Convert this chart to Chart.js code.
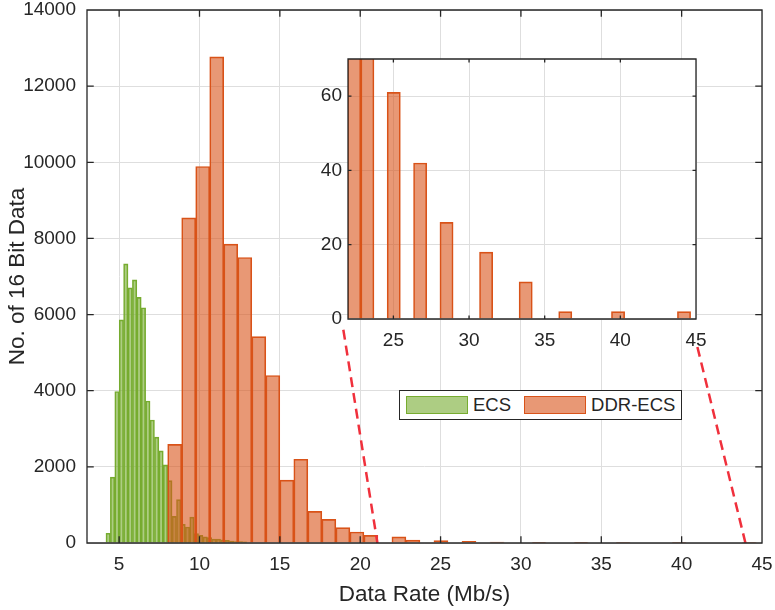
<!DOCTYPE html>
<html>
<head>
<meta charset="utf-8">
<script src="https://cdn.jsdelivr.net/npm/chart.js@4.4.1/dist/chart.umd.min.js"></script>
<style>
  body { margin: 0; background: #fff; }
  #wrap { position: relative; width: 775px; height: 610px; font-family: 'Liberation Sans', Arial, sans-serif; }
  #main { position: absolute; left: 0; top: 0; }
  #inset { position: absolute; left: 290px; top: 40px; }
  #legend {
    position: absolute; left: 399px; top: 390px; width: 283px; height: 30px;
    box-sizing: border-box; border: 1.3px solid #262626; background: #fff;
    display: flex; align-items: center; padding-left: 6px;
    font-size: 18.5px; color: #262626; white-space: nowrap;
  }
  #legend .sw { flex: 0 0 62px; height: 18px; box-sizing: border-box; border: 1.5px solid; }
  #legend .txt { flex: 0 0 auto; margin-left: 5px; margin-right: 13px; }
</style>
</head>
<body>
<div id="wrap">
  <canvas id="main" width="775" height="610"></canvas>
  <canvas id="inset" width="420" height="320"></canvas>
  <div id="legend"></div>
</div>
<script>
// histogram bins: ECS
const ecsBinStart = 4.18;
const ecsBinWidth = 0.2743;
const ecsCounts = [255, 1730, 3980, 5860, 7330, 6700, 6910, 6450, 6180, 3730, 3230, 2780, 2420, 2050,
  1640, 700, 1140, 490, 420, 680, 250, 200, 160, 140, 100, 100, 80, 70, 50, 40, 40, 30];

// histogram bins: DDR-ECS
const ddrBinStart = 8.02;
const ddrBinWidth = 0.872;
const ddrCounts = [2590, 8540, 9890, 12770, 7850, 7500, 5420, 4400, 1650, 2200, 830, 620, 405, 290, 200,
  0, 160, 75, 0, 61, 0, 42, 0, 26, 0, 0, 18, 0, 0, 10, 0, 0, 2, 0, 0, 0, 2, 0, 0, 0, 0, 2];

const mainXTicks = [5, 10, 15, 20, 25, 30, 35, 40, 45];
const mainYTicks = [0, 2000, 4000, 6000, 8000, 10000, 12000, 14000];
const insetXTicks = [25, 30, 35, 40, 45];
const insetYTicks = [0, 20, 40, 60];

// dashed guides from the tail of the main plot up to the zoomed view
const zoomGuides = [
  [{x: 18.95, y: 5600}, {x: 21.07, y: 0}],
  [{x: 40.98, y: 5150}, {x: 43.97, y: 0}]
];

const series = [
  {label: 'ECS', edge: '#77ac30', face: 'rgba(119,172,48,0.6)'},
  {label: 'DDR-ECS', edge: '#d95319', face: 'rgba(217,83,25,0.6)'}
];

Chart.defaults.font.family = "'Liberation Sans', Arial, sans-serif";
Chart.defaults.color = '#262626';

const toBins = (start, width, counts) => counts.map((c, i) => ({x: start + (i + 0.5) * width, y: c}));
const setTicks = list => s => { s.ticks = list.map(v => ({value: v})); };
const tickFont = {size: 19, lineHeight: 1.2};
const gridColor = '#dedede';

function barSet(s, data, axis, order) {
  return {
    type: 'bar', label: s.label, data: data, xAxisID: axis, order: order,
    backgroundColor: s.face, borderColor: s.edge, borderWidth: 1,
    barPercentage: 1, categoryPercentage: 1, grouped: false
  };
}

// white plot area (used for the inset so the main grid doesn't show through)
const plotBackground = {
  id: 'plotBackground',
  beforeDraw(chart) {
    const a = chart.chartArea, ctx = chart.ctx;
    ctx.save();
    ctx.fillStyle = '#fff';
    ctx.fillRect(a.left, a.top, a.right - a.left, a.bottom - a.top);
    ctx.restore();
  }
};

// MATLAB-like box with inward ticks on all four sides
const axesBox = {
  id: 'axesBox',
  afterDatasetsDraw(chart) {
    const {ctx, chartArea: a, scales} = chart;
    const xs = scales.x, ys = scales.y;
    const len = 0.01 * Math.max(a.right - a.left, a.bottom - a.top);
    ctx.save();
    ctx.strokeStyle = '#262626';
    ctx.lineWidth = 1.3;
    ctx.beginPath();
    xs.ticks.forEach(t => {
      const px = xs.getPixelForValue(t.value);
      ctx.moveTo(px, a.bottom); ctx.lineTo(px, a.bottom - len);
      ctx.moveTo(px, a.top); ctx.lineTo(px, a.top + len);
    });
    ys.ticks.forEach(t => {
      const py = ys.getPixelForValue(t.value);
      ctx.moveTo(a.left, py); ctx.lineTo(a.left + len, py);
      ctx.moveTo(a.right, py); ctx.lineTo(a.right - len, py);
    });
    ctx.rect(a.left, a.top, a.right - a.left, a.bottom - a.top);
    ctx.stroke();
    ctx.restore();
  }
};

const guideSets = zoomGuides.map(g => ({
  type: 'line', data: g, xAxisID: 'x', order: 0,
  borderColor: '#f0303c', borderWidth: 2.5, borderDash: [10, 6],
  pointRadius: 0, fill: false
}));

new Chart(document.getElementById('main'), {
  type: 'bar',
  data: {
    datasets: [
      barSet(series[0], toBins(ecsBinStart, ecsBinWidth, ecsCounts), 'xEcs', 2),
      barSet(series[1], toBins(ddrBinStart, ddrBinWidth, ddrCounts), 'x', 1),
      ...guideSets
    ]
  },
  options: {
    responsive: false,
    animation: false,
    layout: {padding: {top: 10, right: 13, left: 0, bottom: 0}},
    plugins: {legend: {display: false}, tooltip: {enabled: false}},
    scales: {
      x: {
        type: 'linear', position: 'bottom', min: 3, max: 45, offset: false,
        grid: {offset: false, color: gridColor, drawTicks: false},
        border: {display: false},
        ticks: {font: tickFont, padding: 10, autoSkip: false, maxRotation: 0, callback: v => String(v)},
        afterBuildTicks: setTicks(mainXTicks),
        title: {display: true, text: 'Data Rate (Mb/s)', font: {size: 22.5}, padding: {top: 0, bottom: 2}},
        afterFit: s => { s.height = 67; s.paddingLeft = 0; s.paddingRight = 0; }
      },
      xEcs: {type: 'linear', min: 3, max: 45, offset: false, display: false},
      y: {
        min: 0, max: 14000,
        grid: {color: gridColor, drawTicks: false},
        border: {display: false},
        ticks: {font: tickFont, padding: 11, callback: v => String(v)},
        afterBuildTicks: setTicks(mainYTicks),
        title: {display: true, text: 'No. of 16 Bit Data', font: {size: 22.5}, padding: {top: 4, bottom: 0}},
        afterFit: s => { s.width = 87; s.paddingTop = 0; s.paddingBottom = 0; }
      }
    }
  },
  plugins: [axesBox]
});

// zoomed view of the DDR-ECS tail
new Chart(document.getElementById('inset'), {
  type: 'bar',
  data: {
    datasets: [barSet(series[1], toBins(ddrBinStart, ddrBinWidth, ddrCounts), 'x', 1)]
  },
  options: {
    responsive: false,
    animation: false,
    layout: {padding: {top: 19, right: 14, left: 0, bottom: 0}},
    plugins: {legend: {display: false}, tooltip: {enabled: false}},
    scales: {
      x: {
        type: 'linear', min: 22, max: 45, offset: false,
        grid: {offset: false, color: gridColor, drawTicks: false},
        border: {display: false},
        ticks: {font: tickFont, padding: 10, autoSkip: false, maxRotation: 0, callback: v => String(v)},
        afterBuildTicks: setTicks(insetXTicks),
        afterFit: s => { s.height = 41; s.paddingLeft = 0; s.paddingRight = 0; }
      },
      y: {
        min: 0, max: 70,
        grid: {color: gridColor, drawTicks: false},
        border: {display: false},
        ticks: {font: tickFont, padding: 6, callback: v => String(v)},
        afterBuildTicks: setTicks(insetYTicks),
        afterFit: s => { s.width = 58; s.paddingTop = 0; s.paddingBottom = 0; }
      }
    }
  },
  plugins: [plotBackground, axesBox]
});

// legend box
const legend = document.getElementById('legend');
series.forEach(s => {
  const sw = document.createElement('span');
  sw.className = 'sw';
  sw.style.background = s.face;
  sw.style.borderColor = s.edge;
  const txt = document.createElement('span');
  txt.className = 'txt';
  txt.textContent = s.label;
  legend.appendChild(sw);
  legend.appendChild(txt);
});
</script>
</body>
</html>
